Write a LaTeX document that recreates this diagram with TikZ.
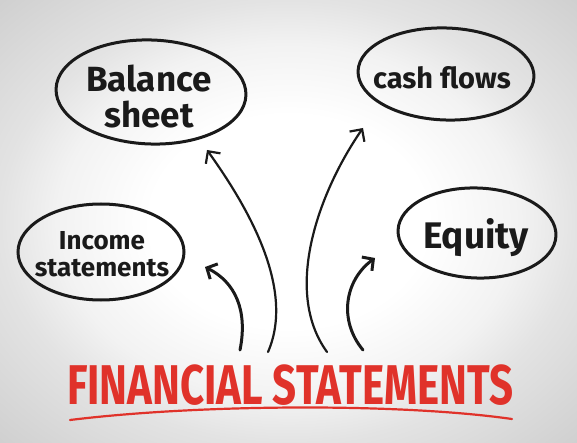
\documentclass[tikz,border=0pt]{standalone}
\usepackage{fontspec}
\setmainfont{Fira Sans}
\usetikzlibrary{shapes.geometric,arrows.meta}
\definecolor{titlered}{HTML}{E0322A}
\definecolor{ink}{HTML}{1A1A1A}
\pgfdeclareradialshading{paperbg}{\pgfpoint{0bp}{0bp}}{%
  color(0bp)=(white); color(12bp)=(white); color(20bp)=(black!5);
  color(25bp)=(black!11); color(36bp)=(black!19); color(50bp)=(black!19)}
\tikzset{
  bubble/.style={ellipse, draw=ink, line width=3pt, inner sep=0pt},
  bubbletext/.style={align=center, text=ink, inner sep=1pt, font=\bfseries},
  longarrow/.style={draw=ink, line width=2.2pt, line cap=round, -{Straight Barb[length=9pt,width=18pt,line width=2.2pt]}},
  shortarrow/.style={draw=ink, line width=3pt, line cap=round, -{Straight Barb[length=8pt,width=17pt,line width=3pt]}}
}
\begin{document}
\begin{tikzpicture}[x=1pt,y=-1pt]
\useasboundingbox (0,0) rectangle (577,443);
\shade[shading=paperbg] (0,0) rectangle (577,443);

\node[bubble, minimum width=190pt, minimum height=104pt, rotate=-2] (bal) at (151,92) {};
\node[bubbletext, font=\bfseries\fontsize{35}{36}\selectfont] (baltext) at (149,97) {Balance\\sheet};
\node[bubble, minimum width=176pt, minimum height=92pt, rotate=-2] (cash) at (446,74) {};
\node[bubbletext, font=\bfseries\fontsize{29}{30}\selectfont] (cashtext) at (442,78) {cash flows};
\node[bubble, minimum width=166pt, minimum height=96pt] (inc) at (101,252) {};
\node[bubbletext, font=\bfseries\fontsize{26}{27}\selectfont] (inctext) at (102,254) {Income\\statements};
\node[bubble, minimum width=158pt, minimum height=90pt, rotate=-2] (eq) at (477,233) {};
\node[bubbletext, font=\bfseries\fontsize{37}{38}\selectfont] (eqtext) at (476,238) {Equity};

\node[text=titlered, font=\bfseries\fontsize{56}{56}\selectfont, xscale=0.75, inner sep=0pt] (title) at (290,385) {FINANCIAL STATEMENTS};
\coordinate (ul) at (70,420);
\coordinate (ur) at (512,419);
\draw[titlered, line width=2.2pt, line cap=round] (ul) .. controls (200,404) and (400,403) .. (ur);

\coordinate (t1) at (268,352);
\coordinate (t2) at (327,352);
\coordinate (t3) at (240,350);
\coordinate (t4) at (363,350);
\coordinate (h1) at (207,150);
\coordinate (h2) at (363,128);
\coordinate (h3) at (205,267);
\coordinate (h4) at (375,258);

\draw[longarrow] (t1) .. controls (295,290) and (250,210) .. (h1);
\draw[longarrow] (t2) .. controls (282,290) and (320,190) .. (h2);
\draw[shortarrow] (t3) .. controls (248,310) and (235,282) .. (h3);
\draw[shortarrow] (t4) .. controls (338,320) and (345,280) .. (h4);
\end{tikzpicture}
\end{document}
